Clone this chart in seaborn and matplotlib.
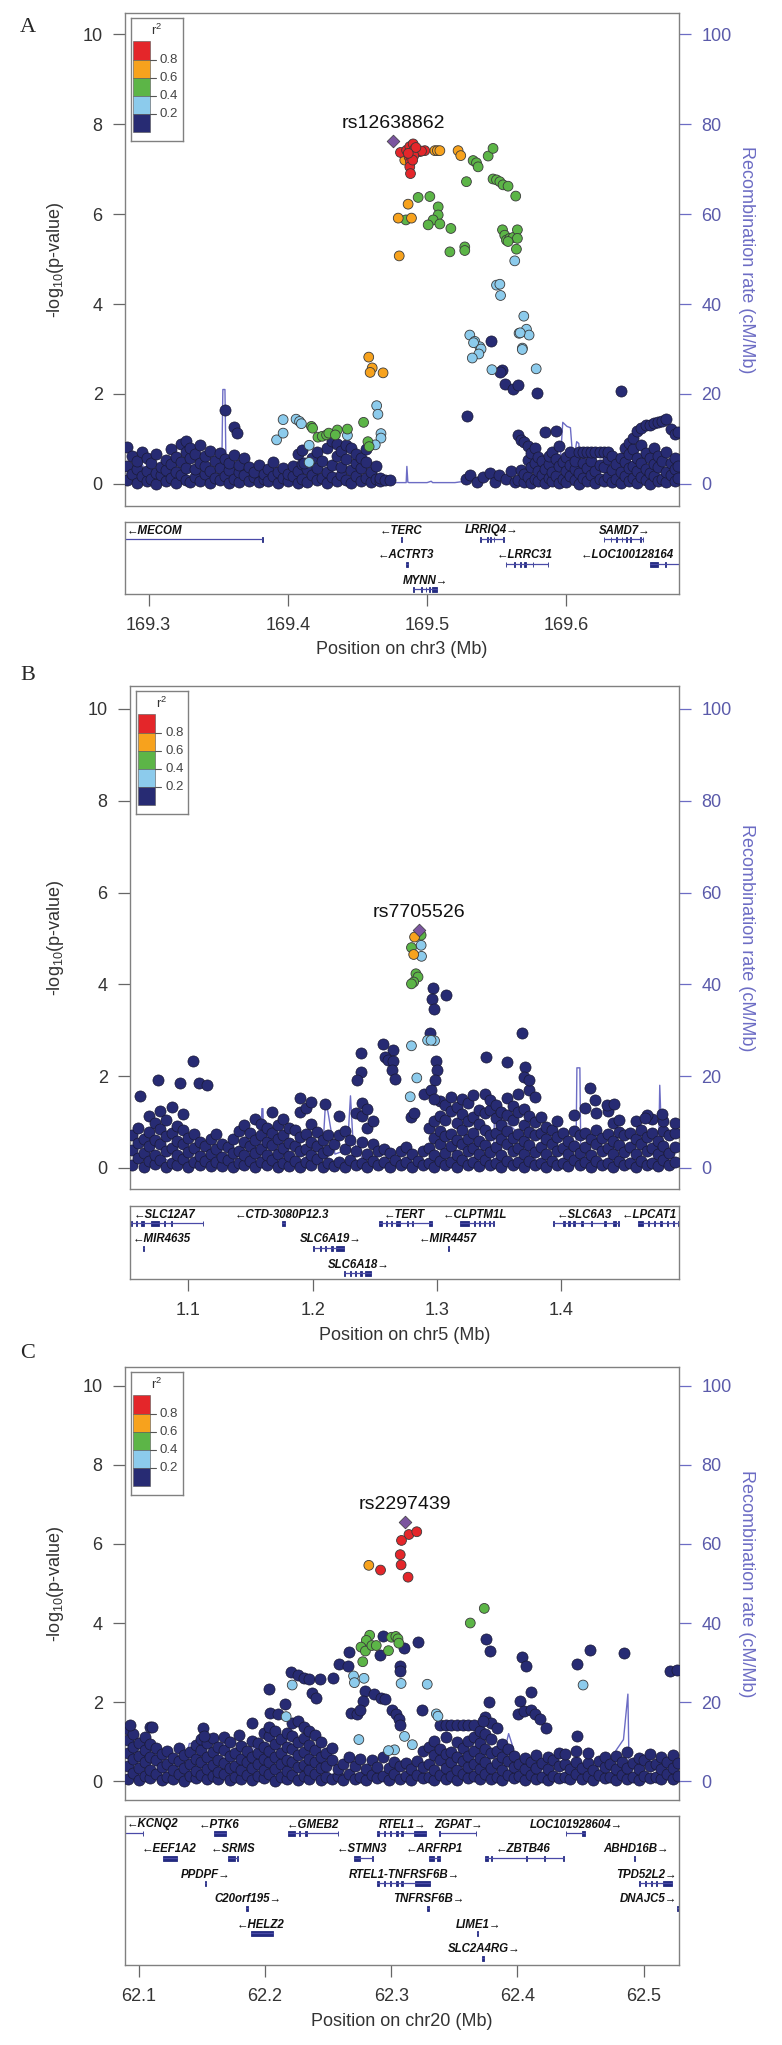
import pandas as pd
import seaborn as sns
import matplotlib.pyplot as plt
from matplotlib.patches import Rectangle

# -----------------------------
# Colours
# -----------------------------
NAVY = "#272b73"
LBLUE = "#8ccbec"
GREEN = "#5cb547"
ORANGE = "#f7a21d"
RED = "#e4262a"
PURPLE = "#7b559f"
REC = "#6c6cc4"
REC_TXT = "#5a5aaa"
GENE = "#232a80"
GENE_LINE = "#4a4aa8"

LD_ORDER = ["0.2-0.4", "0.4-0.6", "0.6-0.8", "0.8-1.0"]
LD_PAL = {"0.2-0.4": LBLUE, "0.4-0.6": GREEN, "0.6-0.8": ORANGE, "0.8-1.0": RED}

# -----------------------------
# Panel A: chr3 (rs12638862)
# -----------------------------
a_lead = (169.4757, 7.63)
a_lead_name = "rs12638862"

a_red = [(169.4809, 7.37), (169.4853, 7.42), (169.4876, 7.50), (169.4900, 7.56), (169.4912, 7.45),
         (169.4871, 7.27), (169.4881, 7.16), (169.4876, 7.05), (169.4881, 6.90), (169.4924, 7.39),
         (169.4948, 7.39), (169.4984, 7.41), (169.4960, 7.40), (169.4893, 7.33), (169.4905, 7.30),
         (169.4920, 7.48), (169.4897, 7.20), (169.4865, 7.35)]

a_orange = [(169.4840, 7.20), (169.5056, 7.41), (169.5074, 7.41), (169.5092, 7.41), (169.5223, 7.41),
            (169.5242, 7.30), (169.4864, 6.22), (169.4793, 5.91), (169.4888, 5.91), (169.4800, 5.07),
            (169.4581, 2.82), (169.4606, 2.58), (169.4591, 2.48), (169.4684, 2.47)]

a_green = [(169.5331, 7.19), (169.5355, 7.14), (169.5367, 7.05), (169.5439, 7.29), (169.5474, 7.46),
           (169.5283, 6.72), (169.5474, 6.78), (169.5499, 6.76), (169.5523, 6.72), (169.5546, 6.65),
           (169.5582, 6.62), (169.5637, 6.40), (169.4936, 6.37), (169.5020, 6.39), (169.5080, 6.16),
           (169.5080, 5.98), (169.5044, 5.87), (169.5008, 5.76), (169.5092, 5.78), (169.5171, 5.68),
           (169.4848, 5.87), (169.5164, 5.16), (169.5271, 5.27), (169.5271, 5.19), (169.5542, 5.65),
           (169.5558, 5.53), (169.5570, 5.42), (169.5594, 5.46), (169.5618, 5.48), (169.5649, 5.65),
           (169.5649, 5.46), (169.5642, 5.22), (169.5582, 5.39), (169.4169, 1.28), (169.4178, 1.24),
           (169.4216, 1.04), (169.4247, 1.06), (169.4278, 1.09), (169.4294, 1.13), (169.4356, 1.20),
           (169.4428, 1.22), (169.4341, 1.09), (169.4544, 1.37), (169.4575, 0.94), (169.4584, 0.83)]

a_lblue = [(169.5630, 4.96), (169.5499, 4.42), (169.5523, 4.44), (169.5528, 4.19), (169.5695, 3.73),
           (169.5661, 3.35), (169.5714, 3.44), (169.5733, 3.31), (169.5307, 3.31), (169.5343, 3.17),
           (169.5379, 3.05), (169.5685, 3.02), (169.5334, 3.14), (169.5388, 3.00), (169.5372, 2.89),
           (169.5325, 2.80), (169.5669, 3.36), (169.5684, 2.99), (169.5784, 2.56), (169.5466, 2.54),
           (169.3919, 0.98), (169.3966, 1.13), (169.3966, 1.43), (169.4059, 1.44), (169.4084, 1.39),
           (169.4097, 1.34), (169.4153, 0.86), (169.4153, 0.48), (169.4428, 1.08), (169.4638, 1.74),
           (169.4647, 1.55), (169.4669, 1.12), (169.4669, 1.02), (169.4628, 0.87)]

# r2 < 0.2 background: (position, [-log10 p values at that position])
a_navy_cols = [
    (169.2845, [0.08, 0.41, 0.83]), (169.2880, [0.22, 0.63]), (169.2915, [0.03, 0.34, 0.52]),
    (169.2950, [0.17, 0.71]), (169.2985, [0.06, 0.29, 0.57]), (169.3020, [0.12, 0.46]),
    (169.3055, [0.01, 0.24, 0.66]), (169.3090, [0.19, 0.38]), (169.3125, [0.07, 0.31, 0.53]),
    (169.3160, [0.14, 0.44, 0.77]), (169.3195, [0.02, 0.27, 0.61]), (169.3230, [0.21, 0.49, 0.88]),
    (169.3265, [0.09, 0.36, 0.72, 0.95]), (169.3300, [0.04, 0.58, 0.81]), (169.3335, [0.16, 0.33, 0.66]),
    (169.3370, [0.06, 0.47, 0.86]), (169.3405, [0.23, 0.39, 0.62]), (169.3440, [0.03, 0.28, 0.74]),
    (169.3475, [0.13, 0.51]), (169.3510, [0.08, 0.35, 0.69]), (169.3545, [0.18, 0.56]),
    (169.3580, [0.02, 0.31, 0.47]), (169.3615, [0.11, 0.64]), (169.3650, [0.05, 0.26, 0.43]),
    (169.3685, [0.20, 0.58]), (169.3720, [0.07, 0.37]), (169.3755, [0.15, 0.26]),
    (169.3790, [0.04, 0.42]), (169.3825, [0.12, 0.23]), (169.3860, [0.06, 0.33]),
    (169.3895, [0.17, 0.48]), (169.3930, [0.03, 0.27]), (169.3965, [0.13, 0.36]),
    (169.4000, [0.07, 0.22]), (169.4035, [0.18, 0.41]), (169.4070, [0.02, 0.29, 0.66]),
    (169.4105, [0.10, 0.45, 0.76]), (169.4140, [0.05, 0.33]), (169.4175, [0.19, 0.57]),
    (169.4210, [0.08, 0.36, 0.71]), (169.4245, [0.14, 0.52]), (169.4280, [0.03, 0.27, 0.79]),
    (169.4315, [0.16, 0.43, 0.96]), (169.4350, [0.06, 0.62, 0.89]), (169.4385, [0.21, 0.38, 0.74]),
    (169.4420, [0.09, 0.55, 0.86]), (169.4455, [0.02, 0.31, 0.81]), (169.4490, [0.17, 0.47, 0.66]),
    (169.4525, [0.07, 0.36, 0.58]), (169.4560, [0.13, 0.49, 0.77]), (169.4595, [0.04, 0.27]),
    (169.4630, [0.10, 0.41]), (169.4665, [0.06, 0.14]), (169.4700, [0.09]), (169.4735, [0.08]),
    (169.5280, [0.10]), (169.5310, [0.20]), (169.5360, [0.05]), (169.5400, [0.15]), (169.5450, [0.25]),
    (169.5490, [0.05]), (169.5520, [0.20]), (169.5570, [0.10]), (169.5600, [0.28]), (169.5630, [0.05]),
    (169.5650, [0.08, 1.09]), (169.5675, [0.31, 0.97]), (169.5700, [0.04, 0.22, 0.93]),
    (169.5725, [0.16, 0.53, 0.84]), (169.5750, [0.02, 0.37, 0.68]), (169.5775, [0.11, 0.46, 0.79]),
    (169.5800, [0.06, 0.28, 0.61]), (169.5825, [0.19, 0.51]), (169.5850, [0.03, 0.34, 1.15]),
    (169.5875, [0.13, 0.44, 0.63]), (169.5900, [0.07, 0.26, 0.71]), (169.5925, [0.17, 0.55, 1.17]),
    (169.5950, [0.02, 0.39, 0.84]), (169.5975, [0.12, 0.48]), (169.6000, [0.05, 0.29, 0.61]),
    (169.6030, [0.18, 0.43, 0.72]), (169.6060, [0.08, 0.33, 0.52]), (169.6090, [0.01, 0.24, 0.72]),
    (169.6120, [0.14, 0.46, 0.72]), (169.6150, [0.06, 0.35, 0.72]), (169.6180, [0.20, 0.51, 0.72]),
    (169.6210, [0.03, 0.28, 0.72]), (169.6240, [0.11, 0.42, 0.72]), (169.6270, [0.07, 0.37, 0.72]),
    (169.6300, [0.16, 0.55, 0.72]), (169.6330, [0.04, 0.31, 0.62]), (169.6360, [0.12, 0.44]),
    (169.6390, [0.02, 0.27, 0.58]), (169.6420, [0.18, 0.49, 0.81]), (169.6450, [0.06, 0.36, 0.66, 0.91]),
    (169.6480, [0.13, 0.41, 0.77, 1.02]), (169.6510, [0.03, 0.29, 0.57, 1.18]),
    (169.6540, [0.15, 0.47, 0.86, 1.24]), (169.6570, [0.08, 0.33, 0.69, 1.31]),
    (169.6600, [0.01, 0.25, 0.58, 1.30]), (169.6630, [0.17, 0.44, 0.79, 1.35]),
    (169.6660, [0.06, 0.38, 0.63, 1.37]), (169.6690, [0.12, 0.52, 1.41]),
    (169.6720, [0.04, 0.27, 0.71, 1.44]), (169.6750, [0.19, 0.46, 1.22]),
    (169.6780, [0.07, 0.33, 0.58, 1.10]), (169.6805, [0.14, 0.41, 1.15])]
a_navy_extra = [(169.355, 1.64), (169.3615, 1.26), (169.3635, 1.14), (169.529, 1.50), (169.546, 3.17),
                (169.5535, 2.54), (169.5525, 2.48), (169.556, 2.23), (169.562, 2.11), (169.565, 2.21),
                (169.579, 2.02), (169.639, 2.07), (169.4115, 0.46)]

a_rec_pos = [169.283, 169.288, 169.292, 169.300, 169.310, 169.320, 169.330, 169.340, 169.350, 169.3525,
             169.3533, 169.3548, 169.3556, 169.358, 169.370, 169.380, 169.390, 169.400, 169.410, 169.420,
             169.430, 169.440, 169.450, 169.457, 169.459, 169.462, 169.466, 169.470, 169.4850, 169.4855,
             169.4862, 169.487, 169.500, 169.503, 169.504, 169.520, 169.527, 169.540, 169.552, 169.556,
             169.560, 169.565, 169.5785, 169.5795, 169.590, 169.596, 169.5975, 169.6005, 169.603, 169.605,
             169.6075, 169.609, 169.611, 169.620, 169.640, 169.660, 169.681]
a_rec_rate = [2.0, 3.0, 6.0, 2.0, 1.5, 2.5, 1.0, 3.0, 2.0, 3.0,
              21.0, 21.0, 3.0, 2.0, 2.5, 1.0, 1.5, 0.8, 1.5, 2.0,
              1.5, 1.0, 1.2, 1.5, 2.6, 1.5, 0.5, 0.3, 0.3, 3.9,
              0.4, 0.3, 0.3, 0.6, 0.3, 0.3, 0.6, 0.8, 1.5, 0.6,
              0.5, 0.6, 0.8, 6.1, 6.0, 6.5, 13.7, 12.8, 12.5, 4.5,
              9.4, 9.0, 2.0, 1.2, 2.5, 1.5, 1.2]

# name, strand, label centre, row, start, end
a_genes = [("MECOM", "-", 169.3040, 0, 169.283, 169.3816),
           ("TERC", "-", 169.4809, 0, 169.4814, 169.4818),
           ("LRRIQ4", "+", 169.5466, 0, 169.5380, 169.5553),
           ("SAMD7", "+", 169.6420, 0, 169.6270, 169.6552),
           ("ACTRT3", "-", 169.4850, 1, 169.4848, 169.4864),
           ("LRRC31", "-", 169.5700, 1, 169.5566, 169.5870),
           ("LOC100128164", "-", 169.6440, 1, 169.6600, 169.6810),
           ("MYNN", "+", 169.4990, 2, 169.4900, 169.5070)]
a_exons = [(0, 169.3813, 169.3818), (0, 169.4814, 169.4818),
           (0, 169.5380, 169.5385), (0, 169.5430, 169.5436), (0, 169.5455, 169.5460), (0, 169.5478, 169.5483),
           (0, 169.5548, 169.5553), (0, 169.6270, 169.6274), (0, 169.6320, 169.6324), (0, 169.6360, 169.6366),
           (0, 169.6400, 169.6404), (0, 169.6430, 169.6436), (0, 169.6460, 169.6464), (0, 169.6530, 169.6534),
           (0, 169.6548, 169.6552), (1, 169.4848, 169.4864), (1, 169.5566, 169.5570), (1, 169.5625, 169.5630),
           (1, 169.5670, 169.5674), (1, 169.5700, 169.5712), (1, 169.5760, 169.5764), (1, 169.5866, 169.5870),
           (1, 169.6600, 169.6660), (1, 169.6710, 169.6715), (2, 169.4900, 169.4905), (2, 169.4955, 169.4962),
           (2, 169.4990, 169.4996), (2, 169.5015, 169.5022), (2, 169.5035, 169.5070)]
a_ticks = [169.3, 169.4, 169.5, 169.6]

# -----------------------------
# Panel B: chr5 (rs7705526)
# -----------------------------
b_lead = (1.2860, 5.19)
b_lead_name = "rs7705526"
b_red = []
b_orange = [(1.2821, 5.03), (1.2814, 4.65)]
b_green = [(1.2874, 5.07), (1.2796, 4.80), (1.2832, 4.23), (1.2849, 4.16), (1.2814, 4.05), (1.2796, 4.01)]
b_lblue = [(1.2874, 4.85), (1.2877, 4.61), (1.2796, 2.66), (1.2839, 1.96), (1.2786, 1.55), (1.2926, 2.78),
           (1.2982, 2.77), (1.2954, 2.78)]

b_navy_cols = [
    (1.0550, [0.06, 0.38, 0.71]), (1.0595, [0.21, 0.55, 0.86]), (1.0640, [0.02, 0.33, 0.64]),
    (1.0685, [0.14, 0.47, 0.79, 1.12]), (1.0730, [0.08, 0.27, 0.61, 0.97]), (1.0775, [0.18, 0.52, 0.84, 1.24]),
    (1.0820, [0.03, 0.36, 0.69, 1.04]), (1.0865, [0.11, 0.43, 0.77, 1.33]), (1.0910, [0.06, 0.29, 0.58, 0.92]),
    (1.0955, [0.19, 0.51, 0.83, 1.17]), (1.1000, [0.01, 0.34, 0.66]), (1.1045, [0.13, 0.44, 0.73]),
    (1.1090, [0.07, 0.26, 0.57]), (1.1135, [0.16, 0.48]), (1.1180, [0.04, 0.31, 0.62]),
    (1.1225, [0.12, 0.41, 0.74]), (1.1270, [0.05, 0.23, 0.53]), (1.1315, [0.17, 0.46]),
    (1.1360, [0.02, 0.32, 0.63]), (1.1405, [0.10, 0.37, 0.81]), (1.1450, [0.06, 0.28, 0.57, 0.93]),
    (1.1495, [0.15, 0.47, 0.76]), (1.1540, [0.03, 0.33, 0.61, 1.06]), (1.1585, [0.12, 0.42, 0.72, 0.96]),
    (1.1630, [0.07, 0.27, 0.56, 0.87]), (1.1675, [0.18, 0.49, 0.77, 1.21]), (1.1720, [0.01, 0.31, 0.62, 0.94]),
    (1.1765, [0.11, 0.43, 0.71, 1.07]), (1.1810, [0.05, 0.26, 0.54, 0.86]), (1.1855, [0.16, 0.47, 0.82]),
    (1.1900, [0.03, 0.36, 0.67, 1.21, 1.53]), (1.1945, [0.13, 0.41, 0.73, 1.31]),
    (1.1990, [0.06, 0.29, 0.57, 0.96, 1.44]), (1.2035, [0.19, 0.48, 0.79]), (1.2080, [0.02, 0.33, 0.61]),
    (1.2125, [0.10, 0.38, 0.72]), (1.2170, [0.05, 0.52]), (1.2215, [0.12, 0.71, 1.12]),
    (1.2260, [0.03, 0.42, 0.81]), (1.2305, [0.17, 0.61]), (1.2350, [0.06, 0.37, 1.19]),
    (1.2395, [0.11, 0.56, 1.12, 1.41]), (1.2440, [0.02, 0.31, 0.86, 1.28]), (1.2485, [0.16, 0.52, 1.02]),
    (1.2530, [0.07, 0.36]), (1.2575, [0.13, 0.42]), (1.2620, [0.03, 0.32]), (1.2665, [0.18]),
    (1.2710, [0.06, 0.37]), (1.2755, [0.12, 0.46]), (1.2800, [0.02, 0.31]), (1.2845, [0.15]),
    (1.2890, [0.07, 0.36]), (1.2935, [0.11, 0.44, 0.86]), (1.2980, [0.03, 0.29, 0.66, 1.02]),
    (1.3025, [0.16, 0.52, 0.81, 1.12, 1.45]), (1.3070, [0.06, 0.33, 0.69, 1.05, 1.38]),
    (1.3115, [0.12, 0.47, 0.74, 1.25, 1.55]), (1.3160, [0.02, 0.28, 0.61, 0.98, 1.32]),
    (1.3205, [0.17, 0.51, 0.83, 1.18, 1.50]), (1.3250, [0.07, 0.36, 0.64, 1.02, 1.41]),
    (1.3295, [0.13, 0.43, 0.77, 1.11, 1.58]), (1.3340, [0.04, 0.31, 0.58, 0.96, 1.27]),
    (1.3385, [0.18, 0.49, 0.82, 1.19, 1.60]), (1.3430, [0.06, 0.34, 0.71, 1.26, 1.48]),
    (1.3475, [0.11, 0.46, 0.76, 1.08, 1.37]), (1.3520, [0.02, 0.29, 0.62, 0.93, 1.22]),
    (1.3565, [0.15, 0.51, 0.81, 1.16, 1.52]), (1.3610, [0.07, 0.36, 0.66, 1.04, 1.34]),
    (1.3655, [0.12, 0.44, 0.74, 1.21, 1.60]), (1.3700, [0.03, 0.31, 0.59, 0.94, 1.28]),
    (1.3745, [0.16, 0.49, 0.79, 1.12, 1.70]), (1.3790, [0.06, 0.34, 0.71, 1.01, 1.55]),
    (1.3835, [0.10, 0.45, 0.76, 1.10]), (1.3880, [0.02, 0.30, 0.62, 0.90]), (1.3925, [0.14, 0.52, 0.82]),
    (1.3970, [0.07, 0.37, 0.68, 1.02]), (1.4015, [0.11, 0.43, 0.76]), (1.4060, [0.04, 0.31, 0.59]),
    (1.4105, [0.17, 0.48, 0.81, 1.15]), (1.4150, [0.06, 0.33, 0.71]), (1.4195, [0.12, 0.46, 0.77, 1.30]),
    (1.4240, [0.03, 0.29, 0.62]), (1.4285, [0.15, 0.51, 0.83, 1.20]), (1.4330, [0.07, 0.36, 0.66]),
    (1.4375, [0.11, 0.44, 0.74, 1.25]), (1.4420, [0.02, 0.31, 0.58, 0.97]), (1.4465, [0.16, 0.49, 0.79, 1.05]),
    (1.4510, [0.06, 0.34, 0.71]), (1.4555, [0.10, 0.45, 0.76]), (1.4600, [0.03, 0.30, 0.62, 1.02]),
    (1.4645, [0.14, 0.52, 0.82]), (1.4690, [0.07, 0.37, 0.68]), (1.4735, [0.11, 0.43, 0.76, 1.06]),
    (1.4780, [0.04, 0.31, 0.59]), (1.4825, [0.17, 0.48, 0.81, 1.03]), (1.4870, [0.06, 0.33, 0.71]),
    (1.4915, [0.12, 0.46, 0.77, 0.98])]
b_navy_extra = [(1.2972, 3.92), (1.3077, 3.76), (1.2965, 3.67), (1.2979, 3.46), (1.2944, 2.95), (1.3684, 2.95),
                (1.2568, 2.71), (1.2649, 2.57), (1.2386, 2.51), (1.2586, 2.42), (1.2611, 2.35), (1.2649, 2.33),
                (1.2639, 2.14), (1.2663, 1.94), (1.2386, 2.09), (1.2358, 1.91), (1.2996, 2.33), (1.2999, 2.13),
                (1.2989, 1.91), (1.1035, 2.33), (1.0754, 1.91), (1.3400, 2.41), (1.3568, 2.30), (1.3709, 2.20),
                (1.3702, 1.99), (1.3744, 1.92), (1.0610, 1.57), (1.0930, 1.84), (1.1088, 1.84), (1.1150, 1.80),
                (1.4235, 1.75), (1.4270, 1.49), (1.4368, 1.37), (1.4428, 1.39), (1.4691, 1.15), (1.4675, 1.08),
                (1.4814, 1.17), (1.2100, 1.40), (1.2790, 1.10), (1.2820, 1.20), (1.2900, 1.60), (1.2955, 1.70),
                (1.2980, 1.50)]

b_rec_pos = [1.053, 1.060, 1.070, 1.080, 1.090, 1.100, 1.120, 1.140, 1.158, 1.1592,
             1.1600, 1.161, 1.180, 1.200, 1.208, 1.2105, 1.2125, 1.218, 1.228, 1.2305,
             1.2325, 1.240, 1.250, 1.260, 1.270, 1.280, 1.290, 1.300, 1.310, 1.318,
             1.3195, 1.321, 1.340, 1.3455, 1.3465, 1.360, 1.375, 1.380, 1.400, 1.412,
             1.4128, 1.4152, 1.416, 1.430, 1.450, 1.4785, 1.4795, 1.4812, 1.4835, 1.495]
b_rec_rate = [1.0, 2.0, 0.8, 2.0, 1.0, 1.5, 1.0, 2.0, 1.0, 12.9,
              12.9, 1.0, 1.5, 2.0, 3.0, 14.6, 12.0, 3.0, 4.0, 15.7,
              6.0, 2.0, 1.5, 0.8, 0.5, 0.5, 0.4, 0.6, 0.5, 0.5,
              1.8, 0.5, 0.5, 0.6, 12.0, 9.0, 5.0, 1.5, 1.0, 1.5,
              21.8, 21.8, 1.5, 1.0, 1.5, 1.5, 18.0, 5.0, 1.5, 1.0]

b_genes = [("SLC12A7", "-", 1.0807, 0, 1.0540, 1.1120),
           ("CTD-3080P12.3", "-", 1.1754, 0, 1.1750, 1.1775),
           ("TERT", "-", 1.2737, 0, 1.2533, 1.2961),
           ("CLPTM1L", "-", 1.3305, 0, 1.3186, 1.3463),
           ("SLC6A3", "-", 1.4186, 0, 1.3937, 1.4463),
           ("LPCAT1", "-", 1.4709, 0, 1.4621, 1.4954),
           ("MIR4635", "-", 1.0786, 1, 1.0637, 1.0641),
           ("SLC6A19", "+", 1.2147, 1, 1.2007, 1.2253),
           ("MIR4457", "-", 1.3088, 1, 1.3093, 1.3097),
           ("SLC6A18", "+", 1.2368, 2, 1.2253, 1.2470)]
b_exons = [(0, 1.0540, 1.0550), (0, 1.0580, 1.0590), (0, 1.0620, 1.0640), (0, 1.0700, 1.0760), (0, 1.0800, 1.0810),
           (0, 1.0860, 1.0870), (0, 1.1115, 1.1120), (0, 1.1750, 1.1775), (0, 1.2533, 1.2560), (0, 1.2590, 1.2600),
           (0, 1.2630, 1.2640), (0, 1.2670, 1.2700), (0, 1.2760, 1.2770), (0, 1.2800, 1.2810), (0, 1.2940, 1.2961),
           (0, 1.3186, 1.3260), (0, 1.3300, 1.3310), (0, 1.3340, 1.3350), (0, 1.3380, 1.3390), (0, 1.3420, 1.3430),
           (0, 1.3455, 1.3463), (0, 1.3937, 1.3945), (0, 1.4020, 1.4030), (0, 1.4060, 1.4070), (0, 1.4100, 1.4110),
           (0, 1.4160, 1.4180), (0, 1.4240, 1.4250), (0, 1.4350, 1.4360), (0, 1.4420, 1.4440), (0, 1.4455, 1.4463),
           (0, 1.4621, 1.4660), (0, 1.4700, 1.4710), (0, 1.4750, 1.4760), (0, 1.4800, 1.4810), (0, 1.4850, 1.4860),
           (0, 1.4900, 1.4910), (0, 1.4940, 1.4954), (1, 1.0637, 1.0641), (1, 1.2007, 1.2015), (1, 1.2060, 1.2070),
           (1, 1.2100, 1.2110), (1, 1.2150, 1.2165), (1, 1.2190, 1.2253), (1, 1.3093, 1.3097), (2, 1.2253, 1.2260),
           (2, 1.2300, 1.2310), (2, 1.2340, 1.2350), (2, 1.2380, 1.2400), (2, 1.2420, 1.2470)]
b_ticks = [1.1, 1.2, 1.3, 1.4]

# -----------------------------
# Panel C: chr20 (rs2297439)
# -----------------------------
c_lead = (62.3105, 6.56)
c_lead_name = "rs2297439"
c_red = [(62.3140, 6.24), (62.3202, 6.31), (62.3081, 6.09), (62.3071, 5.73), (62.3078, 5.47),
         (62.3133, 5.16), (62.2915, 5.34)]
c_orange = [(62.2822, 5.46)]
c_green = [(62.3737, 4.37), (62.3626, 4.00), (62.2829, 3.69), (62.2802, 3.56), (62.2760, 3.39),
           (62.2795, 3.29), (62.2774, 3.02), (62.2846, 3.43), (62.2881, 3.43), (62.2978, 3.30),
           (62.3002, 3.64), (62.3036, 3.66), (62.3053, 3.60), (62.3060, 3.49)]
c_lblue = [(62.2701, 2.66), (62.2708, 2.49), (62.2784, 2.60), (62.3078, 2.47), (62.3285, 2.45),
           (62.4520, 2.43), (62.2215, 2.43), (62.2167, 1.63), (62.3357, 1.70), (62.3370, 1.64),
           (62.2743, 1.05), (62.3105, 1.13), (62.3167, 0.92), (62.3026, 0.79), (62.2978, 0.77)]

c_navy_cols = [
    (62.0910, [0.06, 0.38, 0.71, 1.03, 1.31]), (62.0955, [0.21, 0.55, 0.86, 1.19]),
    (62.1000, [0.02, 0.33, 0.64, 0.97]), (62.1045, [0.14, 0.47, 0.79, 1.12]),
    (62.1090, [0.08, 0.27, 0.61, 0.93, 1.36]), (62.1135, [0.18, 0.52, 0.84]), (62.1180, [0.03, 0.36, 0.69]),
    (62.1225, [0.11, 0.43, 0.77]), (62.1270, [0.06, 0.29, 0.58]), (62.1315, [0.19, 0.51, 0.83]),
    (62.1360, [0.01, 0.34, 0.66]), (62.1405, [0.13, 0.44, 0.73]), (62.1450, [0.07, 0.26, 0.57, 0.91]),
    (62.1495, [0.16, 0.48, 0.79, 1.06]), (62.1540, [0.04, 0.31, 0.62, 0.96]), (62.1585, [0.12, 0.41, 0.74, 1.08]),
    (62.1630, [0.05, 0.23, 0.53, 0.87]), (62.1675, [0.17, 0.46, 0.78, 1.12]), (62.1720, [0.02, 0.32, 0.63, 0.99]),
    (62.1765, [0.10, 0.37, 0.71]), (62.1810, [0.06, 0.28, 0.57, 0.89]), (62.1855, [0.15, 0.47, 0.76]),
    (62.1900, [0.03, 0.33, 0.61, 1.01]), (62.1945, [0.12, 0.42, 0.72, 0.96]),
    (62.1990, [0.07, 0.27, 0.56, 0.87, 1.22]), (62.2035, [0.18, 0.49, 0.77, 1.13, 1.38]),
    (62.2080, [0.01, 0.31, 0.62, 0.94, 1.27]), (62.2125, [0.11, 0.43, 0.71, 1.07]),
    (62.2170, [0.05, 0.26, 0.54, 0.86, 1.21]), (62.2215, [0.16, 0.47, 0.82, 1.14, 1.46]),
    (62.2260, [0.03, 0.36, 0.67, 0.98, 1.53]), (62.2305, [0.13, 0.41, 0.73, 1.09, 1.38]),
    (62.2350, [0.06, 0.29, 0.57, 0.92, 1.27]), (62.2395, [0.19, 0.48, 0.79, 1.16]),
    (62.2440, [0.02, 0.33, 0.61, 0.99]), (62.2485, [0.10, 0.38, 0.72]), (62.2530, [0.05, 0.52, 0.84]),
    (62.2575, [0.12, 0.31]), (62.2620, [0.03, 0.42]), (62.2665, [0.17, 0.61]), (62.2710, [0.06, 0.37]),
    (62.2755, [0.11, 0.56]), (62.2800, [0.02, 0.31]), (62.2845, [0.16, 0.52]), (62.2890, [0.07, 0.36]),
    (62.2935, [0.13, 0.62]), (62.2980, [0.03, 0.32]), (62.3025, [0.18, 0.49]), (62.3070, [0.06, 0.37]),
    (62.3115, [0.12, 0.46]), (62.3160, [0.02, 0.31]), (62.3205, [0.15, 0.51]), (62.3250, [0.07, 0.36, 0.77]),
    (62.3295, [0.11, 0.44, 0.86]), (62.3340, [0.03, 0.29, 0.66, 1.02]), (62.3385, [0.16, 0.52, 0.81, 1.41]),
    (62.3430, [0.06, 0.33, 0.69, 1.12, 1.41]), (62.3475, [0.12, 0.47, 0.74, 1.41]),
    (62.3520, [0.02, 0.28, 0.61, 0.98, 1.41]), (62.3565, [0.17, 0.51, 0.83, 1.41]),
    (62.3610, [0.07, 0.36, 0.64, 1.02, 1.41]), (62.3655, [0.13, 0.43, 0.77, 1.11, 1.41]),
    (62.3700, [0.04, 0.31, 0.58, 0.96, 1.27]), (62.3745, [0.18, 0.49, 0.82, 1.19, 1.62]),
    (62.3790, [0.06, 0.34, 0.71, 1.06, 1.48]), (62.3835, [0.11, 0.46, 0.76, 1.34]),
    (62.3880, [0.02, 0.29, 0.62, 0.93]), (62.3925, [0.15, 0.51, 0.81]), (62.3970, [0.07, 0.36, 0.63]),
    (62.4015, [0.12, 0.44]), (62.4060, [0.03, 0.31, 0.58]), (62.4105, [0.16, 0.49]), (62.4150, [0.06, 0.34, 0.66]),
    (62.4195, [0.10, 0.45]), (62.4240, [0.02, 0.30, 0.61]), (62.4285, [0.14, 0.52]), (62.4330, [0.07, 0.37, 0.72]),
    (62.4375, [0.11, 0.43, 0.68]), (62.4420, [0.04, 0.31]), (62.4465, [0.17, 0.48, 0.76]), (62.4510, [0.06, 0.33]),
    (62.4555, [0.12, 0.46, 0.71]), (62.4600, [0.03, 0.29]), (62.4645, [0.15, 0.51]), (62.4690, [0.07, 0.36, 0.61]),
    (62.4735, [0.11, 0.44]), (62.4780, [0.02, 0.31, 0.63]), (62.4825, [0.16, 0.49]), (62.4870, [0.06, 0.34, 0.74]),
    (62.4915, [0.10, 0.45]), (62.4960, [0.03, 0.30, 0.58]), (62.5005, [0.14, 0.52]), (62.5050, [0.07, 0.37, 0.69]),
    (62.5095, [0.11, 0.43]), (62.5140, [0.04, 0.31, 0.62]), (62.5185, [0.17, 0.48]), (62.5230, [0.06, 0.33, 0.66]),
    (62.5270, [0.12, 0.46])]
c_navy_extra = [(62.2664, 3.26), (62.2933, 3.66), (62.2909, 3.20), (62.3098, 3.37), (62.3209, 3.51), (62.3751, 3.60),
                (62.3785, 3.28), (62.4037, 3.15), (62.4071, 2.90), (62.4572, 3.32), (62.4468, 2.96), (62.4848, 3.23),
                (62.5211, 2.79), (62.5262, 2.82), (62.2588, 2.96), (62.2657, 2.92), (62.3071, 2.92), (62.3071, 2.79),
                (62.2208, 2.75), (62.2260, 2.69), (62.2311, 2.62), (62.2346, 2.58), (62.2432, 2.58), (62.2536, 2.62),
                (62.2035, 2.34), (62.2370, 2.24), (62.2405, 2.11), (62.2795, 2.28), (62.2864, 2.20), (62.2915, 2.11),
                (62.2950, 2.07), (62.2777, 2.03), (62.3243, 1.79), (62.3778, 2.01), (62.4106, 2.26), (62.4020, 2.03),
                (62.2156, 1.94), (62.2042, 1.71), (62.2104, 1.69), (62.2684, 1.73), (62.2726, 1.69), (62.2753, 1.81),
                (62.3002, 1.81), (62.3036, 1.69), (62.3064, 1.56), (62.3071, 1.43), (62.4468, 1.13), (62.1897, 1.47),
                (62.1511, 1.34), (62.1104, 1.36), (62.0931, 1.41), (62.1518, 1.13), (62.1794, 1.17), (62.3726, 1.51),
                (62.4003, 1.69), (62.4054, 1.77), (62.4106, 1.81), (62.4141, 1.69), (62.4175, 1.56), (62.4227, 1.34)]

c_rec_pos = [62.089, 62.100, 62.112, 62.114, 62.118, 62.120, 62.135, 62.140, 62.190, 62.195,
             62.205, 62.215, 62.225, 62.228, 62.240, 62.250, 62.320, 62.3245, 62.328, 62.360,
             62.362, 62.364, 62.366, 62.370, 62.372, 62.385, 62.390, 62.393, 62.396, 62.400,
             62.450, 62.470, 62.484, 62.4875, 62.4885, 62.490, 62.500, 62.528]
c_rec_rate = [1.5, 1.5, 2.0, 8.0, 8.0, 2.0, 3.0, 9.5, 9.5, 4.0,
              4.0, 2.0, 1.5, 0.8, 0.8, 0.5, 0.4, 1.0, 0.3, 0.2,
              2.0, 7.0, 12.0, 12.0, 4.0, 3.0, 8.0, 12.0, 9.0, 3.0,
              3.0, 4.0, 10.5, 22.0, 2.0, 1.5, 1.5, 1.0]

c_genes = [("KCNQ2", "-", 62.1104, 0, 62.0890, 62.1035),
           ("PTK6", "-", 62.1635, 0, 62.1594, 62.1690),
           ("GMEB2", "-", 62.2377, 0, 62.2180, 62.2580),
           ("RTEL1", "+", 62.3088, 0, 62.2888, 62.3278),
           ("ZGPAT", "+", 62.3537, 0, 62.3380, 62.3675),
           ("LOC101928604", "+", 62.4468, 0, 62.4382, 62.4537),
           ("EEF1A2", "-", 62.1242, 1, 62.1190, 62.1304),
           ("SRMS", "-", 62.1742, 1, 62.1708, 62.1787),
           ("STMN3", "-", 62.2767, 1, 62.2708, 62.2853),
           ("ARFRP1", "-", 62.3340, 1, 62.3302, 62.3388),
           ("ZBTB46", "-", 62.4047, 1, 62.3744, 62.4365),
           ("ABHD16B", "+", 62.4941, 1, 62.4920, 62.4935),
           ("PPDPF", "+", 62.1531, 2, 62.1525, 62.1532),
           ("RTEL1-TNFRSF6B", "+", 62.3105, 2, 62.2888, 62.3305),
           ("TPD52L2", "+", 62.5024, 2, 62.4962, 62.5228),
           ("C20orf195", "+", 62.1863, 3, 62.1850, 62.1862),
           ("TNFRSF6B", "+", 62.3295, 3, 62.3283, 62.3295),
           ("DNAJC5", "+", 62.5038, 3, 62.5268, 62.5280),
           ("HELZ2", "-", 62.1963, 4, 62.1890, 62.2060),
           ("LIME1", "+", 62.3695, 4, 62.3680, 62.3690),
           ("SLC2A4RG", "+", 62.3740, 5, 62.3720, 62.3735)]
c_exons = [(0, 62.1030, 62.1035), (0, 62.1594, 62.1690), (0, 62.2180, 62.2240), (0, 62.2270, 62.2280),
           (0, 62.2320, 62.2330), (0, 62.2575, 62.2580), (0, 62.2888, 62.2900), (0, 62.2940, 62.2950),
           (0, 62.2990, 62.3000), (0, 62.3040, 62.3050), (0, 62.3080, 62.3090), (0, 62.3180, 62.3278),
           (0, 62.3380, 62.3388), (0, 62.3668, 62.3675), (0, 62.4382, 62.4388), (0, 62.4515, 62.4537),
           (1, 62.1190, 62.1304), (1, 62.1708, 62.1760), (1, 62.1780, 62.1787), (1, 62.2708, 62.2750),
           (1, 62.2848, 62.2853), (1, 62.3302, 62.3340), (1, 62.3360, 62.3388), (1, 62.3744, 62.3770),
           (1, 62.3790, 62.3800), (1, 62.4070, 62.4075), (1, 62.4210, 62.4215), (1, 62.4360, 62.4365),
           (1, 62.4920, 62.4935), (2, 62.1525, 62.1532), (2, 62.2888, 62.2900), (2, 62.2940, 62.2950),
           (2, 62.2990, 62.3000), (2, 62.3040, 62.3050), (2, 62.3080, 62.3090), (2, 62.3190, 62.3305),
           (2, 62.4962, 62.4968), (2, 62.5010, 62.5016), (2, 62.5060, 62.5066), (2, 62.5100, 62.5106),
           (2, 62.5150, 62.5228), (3, 62.1850, 62.1862), (3, 62.3283, 62.3295), (3, 62.5268, 62.5280),
           (4, 62.1890, 62.2060), (4, 62.3680, 62.3690), (5, 62.3720, 62.3735)]
c_ticks = [62.1, 62.2, 62.3, 62.4, 62.5]

# -----------------------------
# Figure setup
# -----------------------------
W, H = 782, 2045
sns.set_theme(style="white")
plt.rcParams["font.family"] = ["Liberation Sans", "DejaVu Sans"]
plt.rcParams["mathtext.fontset"] = "custom"
plt.rcParams["mathtext.rm"] = "Liberation Sans"
plt.rcParams["mathtext.it"] = "Liberation Sans:italic"

fig = plt.figure(figsize=(W / 100, H / 100), dpi=100)


def fr(l, t, r, b):
    return [l / W, 1 - b / H, (r - l) / W, (b - t) / H]


def expand(cols, extra):
    pts = [(x, y) for x, ys in cols for y in ys]
    return pd.DataFrame(pts + extra, columns=["pos", "logp"])


def draw_legend(l, t):
    lax = fig.add_axes(fr(l + 6, t + 5, l + 58, t + 128))
    lax.set_xlim(0, 52)
    lax.set_ylim(123, 0)
    lax.set_xticks([])
    lax.set_yticks([])
    for sp in lax.spines.values():
        sp.set_color("#808080")
        sp.set_linewidth(1.0)
    for i, c in enumerate([RED, ORANGE, GREEN, LBLUE, NAVY]):
        lax.add_patch(Rectangle((2.3, 23.4 + i * 18.2), 17, 18.2, facecolor=c, edgecolor="#555555", lw=0.4))
    for i, lab in enumerate(["0.8", "0.6", "0.4", "0.2"]):
        yy = 23.4 + (i + 1) * 18.2
        lax.plot([19.3, 25], [yy, yy], color="#555555", lw=0.8)
        lax.text(29, yy, lab, va="center", ha="left", fontsize=9.5, color="#444444")
    lax.text(26, 12, "r$^2$", ha="center", va="center", fontsize=9.5, color="#333333")


def draw_panel(letter, letter_y, box, ylim, gbox, xlim, ticks, chrom, navy, lblue, green, orange, red,
               lead, lead_name, rec_pos, rec_rate, genes, exons):
    l, t, r, b = box
    ax = fig.add_axes(fr(l, t, r, b))
    ax2 = ax.twinx()
    ax.set_zorder(ax2.get_zorder() + 1)
    ax.patch.set_visible(False)

    # recombination rate
    sns.lineplot(x=rec_pos, y=rec_rate, ax=ax2, color=REC, lw=1.0, estimator=None, sort=False)
    ax2.set_ylim(ylim[0] * 10, ylim[1] * 10)
    ax2.set_yticks([0, 20, 40, 60, 80, 100])
    ax2.set_ylabel("")
    ax2.tick_params(axis="y", right=True, length=8.6, width=0.9, color=REC, labelsize=13,
                    labelcolor=REC_TXT, pad=7.5)
    for sp in ax2.spines.values():
        sp.set_visible(False)

    # association points
    rows = []
    for cat, pts in zip(LD_ORDER, [lblue, green, orange, red]):
        for x, y in pts:
            rows.append((x, y, cat))
    col = pd.DataFrame(rows, columns=["pos", "logp", "r2"])
    sns.scatterplot(data=navy, x="pos", y="logp", color=NAVY, s=64, edgecolor="#1a1a36",
                    linewidth=0.5, ax=ax, legend=False, zorder=3)
    sns.scatterplot(data=col, x="pos", y="logp", hue="r2", hue_order=LD_ORDER, palette=LD_PAL,
                    s=50, edgecolor="#3a3a3a", linewidth=0.6, ax=ax, legend=False, zorder=4)
    sns.scatterplot(x=[lead[0]], y=[lead[1]], marker="D", s=42, color=PURPLE, edgecolor="#3a3a3a",
                    linewidth=0.5, ax=ax, legend=False, zorder=5)
    ax.annotate(lead_name, xy=lead, xytext=(0, 9), textcoords="offset points", ha="center",
                va="baseline", fontsize=14, color="#111111")

    ax.set_xlim(xlim)
    ax.set_ylim(ylim)
    ax.set_xticks([])
    ax.set_yticks([0, 2, 4, 6, 8, 10])
    ax.set_xlabel("")
    ax.set_ylabel("")
    ax.tick_params(axis="y", left=True, length=8.6, width=0.9, color="#666666", labelsize=13,
                   labelcolor="#333333", pad=7.5)
    for sp in ax.spines.values():
        sp.set_color("#808080")
        sp.set_linewidth(1.0)

    draw_legend(l, t)

    fig.text(28 / W, 1 - letter_y / H, letter, fontsize=16, ha="center", va="center",
             family=["Liberation Serif", "DejaVu Serif"])
    fig.text(55 / W, 1 - (t + b) / 2 / H, "-log$_{10}$(p-value)", rotation=90, ha="center",
             va="center", fontsize=13, color="#333333")
    fig.text(746 / W, 1 - (t + b) / 2 / H, "Recombination rate (cM/Mb)", rotation=270,
             ha="center", va="center", fontsize=13, color=REC)

    # gene track
    gt, gb = gbox
    gax = fig.add_axes(fr(l, gt, r, gb))
    gax.set_xlim(xlim)
    gax.set_ylim(gb - gt, 0)
    gax.set_yticks([])
    gax.set_xticks(ticks)
    gax.set_xticklabels([f"{v:g}" for v in ticks])
    gax.tick_params(axis="x", bottom=True, length=8.6, width=0.9, color="#666666", labelsize=13,
                    labelcolor="#333333", pad=8)
    gax.grid(False)
    for sp in gax.spines.values():
        sp.set_color("#808080")
        sp.set_linewidth(1.0)
    for name, strand, lx, row, g0, g1 in genes:
        yl = 17 + 25 * row
        gax.plot([g0, g1], [yl, yl], color=GENE_LINE, lw=0.9)
        txt = "\u2190" + name if strand == "-" else name + "\u2192"
        gax.text(lx, yl - 8.5, txt, ha="center", va="center", fontsize=8.3, fontweight="bold",
                 fontstyle="italic", color="#111111")
    for row, e0, e1 in exons:
        yl = 17 + 25 * row
        gax.add_patch(Rectangle((e0, yl - 2.5), e1 - e0, 5, facecolor=GENE, edgecolor=GENE, lw=0.6))

    fig.text((l + r) / 2 / W, 1 - (gb + 56) / H, f"Position on {chrom} (Mb)", ha="center",
             va="center", fontsize=13, color="#333333")


draw_panel("A", 28, (125, 13, 679, 506), (-0.49, 10.47), (522, 594), (169.283, 169.681), a_ticks, "chr3",
           expand(a_navy_cols, a_navy_extra), a_lblue, a_green, a_orange, a_red, a_lead, a_lead_name,
           a_rec_pos, a_rec_rate, a_genes, a_exons)
draw_panel("B", 675, (130, 686, 679, 1189), (-0.46, 10.50), (1206, 1279), (1.053, 1.495), b_ticks, "chr5",
           expand(b_navy_cols, b_navy_extra), b_lblue, b_green, b_orange, b_red, b_lead, b_lead_name,
           b_rec_pos, b_rec_rate, b_genes, b_exons)
draw_panel("C", 1353, (125, 1367, 679, 1800), (-0.48, 10.48), (1816, 1965), (62.089, 62.528), c_ticks, "chr20",
           expand(c_navy_cols, c_navy_extra), c_lblue, c_green, c_orange, c_red, c_lead, c_lead_name,
           c_rec_pos, c_rec_rate, c_genes, c_exons)

fig.savefig("out.png", dpi=100)
